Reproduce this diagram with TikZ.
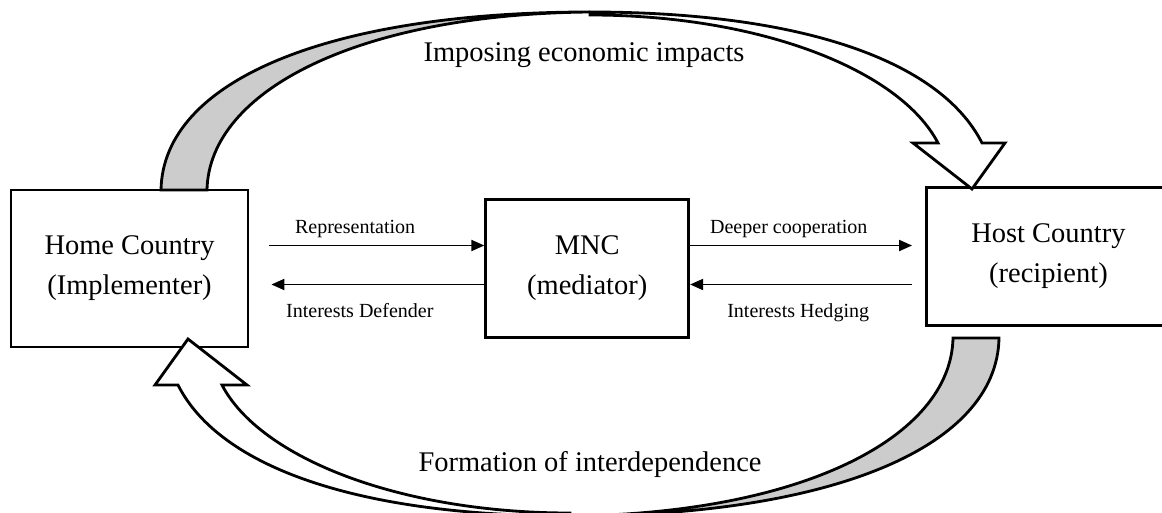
\documentclass[tikz,border=0pt]{standalone}
\usepackage{fontspec}
\setmainfont{Liberation Serif}
\usetikzlibrary{arrows.meta, positioning}

\newcommand{\boxfont}{\fontsize{16.2}{22.8}\selectfont}
\newcommand{\tagfont}{\fontsize{11.4}{14}\selectfont}

\begin{document}
\begin{tikzpicture}[
    x=0.02cm, y=-0.02cm,
    node distance=4.7cm,
    country/.style={rectangle, draw, line width=1.6pt, align=center, font=\boxfont, inner sep=0pt},
    tag/.style={font=\tagfont, text height=1.5ex, text depth=0.25ex, inner sep=0pt},
    title/.style={font=\boxfont},
    arrow/.style={-{Triangle[length=0.26cm, width=0.22cm]}, line width=1.1pt},
    band/.style={draw, line width=1.6pt, line join=miter}
]
    \useasboundingbox (0,0) rectangle (1162,513);

    \node[country, minimum width=4.74cm, minimum height=3.14cm] (home) at (129.5,268.5) {Home Country\\(Implementer)};
    \node[country, minimum width=4.06cm, minimum height=2.76cm, right=of home] (mnc) {MNC\\(mediator)};
    \node[country, minimum width=4.88cm, minimum height=2.76cm, right=of mnc, yshift=0.24cm] (host) {Host Country\\(recipient)};

    \coordinate (repR) at ([yshift=0.46cm]mnc.west);
    \coordinate (defR) at ([yshift=-0.32cm]mnc.west);
    \coordinate (coopL) at ([yshift=0.46cm]mnc.east);
    \coordinate (hedgeL) at ([yshift=-0.32cm]mnc.east);

    \draw[arrow, shorten <=0.4cm] (home.east |- repR) -- (repR) node[tag, pos=0.45, yshift=0.34cm] {Representation};
    \draw[arrow, shorten >=0.44cm] (defR) -- (home.east |- defR) node[tag, pos=0.53, yshift=-0.56cm] {Interests Defender};
    \draw[arrow, shorten >=0.26cm] (coopL) -- (host.west |- coopL) node[tag, pos=0.42, yshift=0.34cm] {Deeper cooperation};
    \draw[arrow, shorten <=0.26cm] (host.west |- hedgeL) -- (hedgeL) node[tag, pos=0.54, yshift=-0.56cm] {Interests Hedging};

    % big curved arrows, the lower one is the upper one turned round
    \foreach \ang in {0,180} {
        \begin{scope}[rotate around={\ang:(580,264)}]
            \filldraw[band, fill=gray!40] (161,190) .. controls (163,80) and (330,12) .. (590,12)
                .. controls (360,14) and (209,90) .. (207,190) -- cycle;
            \filldraw[band, fill=white] (590,12) .. controls (800,12) and (940,60) .. (982,143)
                -- (1005,143) -- (972,189) -- (913,143) -- (938,143)
                .. controls (900,70) and (760,15) .. (590,15) -- cycle;
        \end{scope}
    }

    \node[title] (impose) at (584,55) {Imposing economic impacts};
    \node[title] (formation) at (590,465) {Formation of interdependence};
\end{tikzpicture}
\end{document}
